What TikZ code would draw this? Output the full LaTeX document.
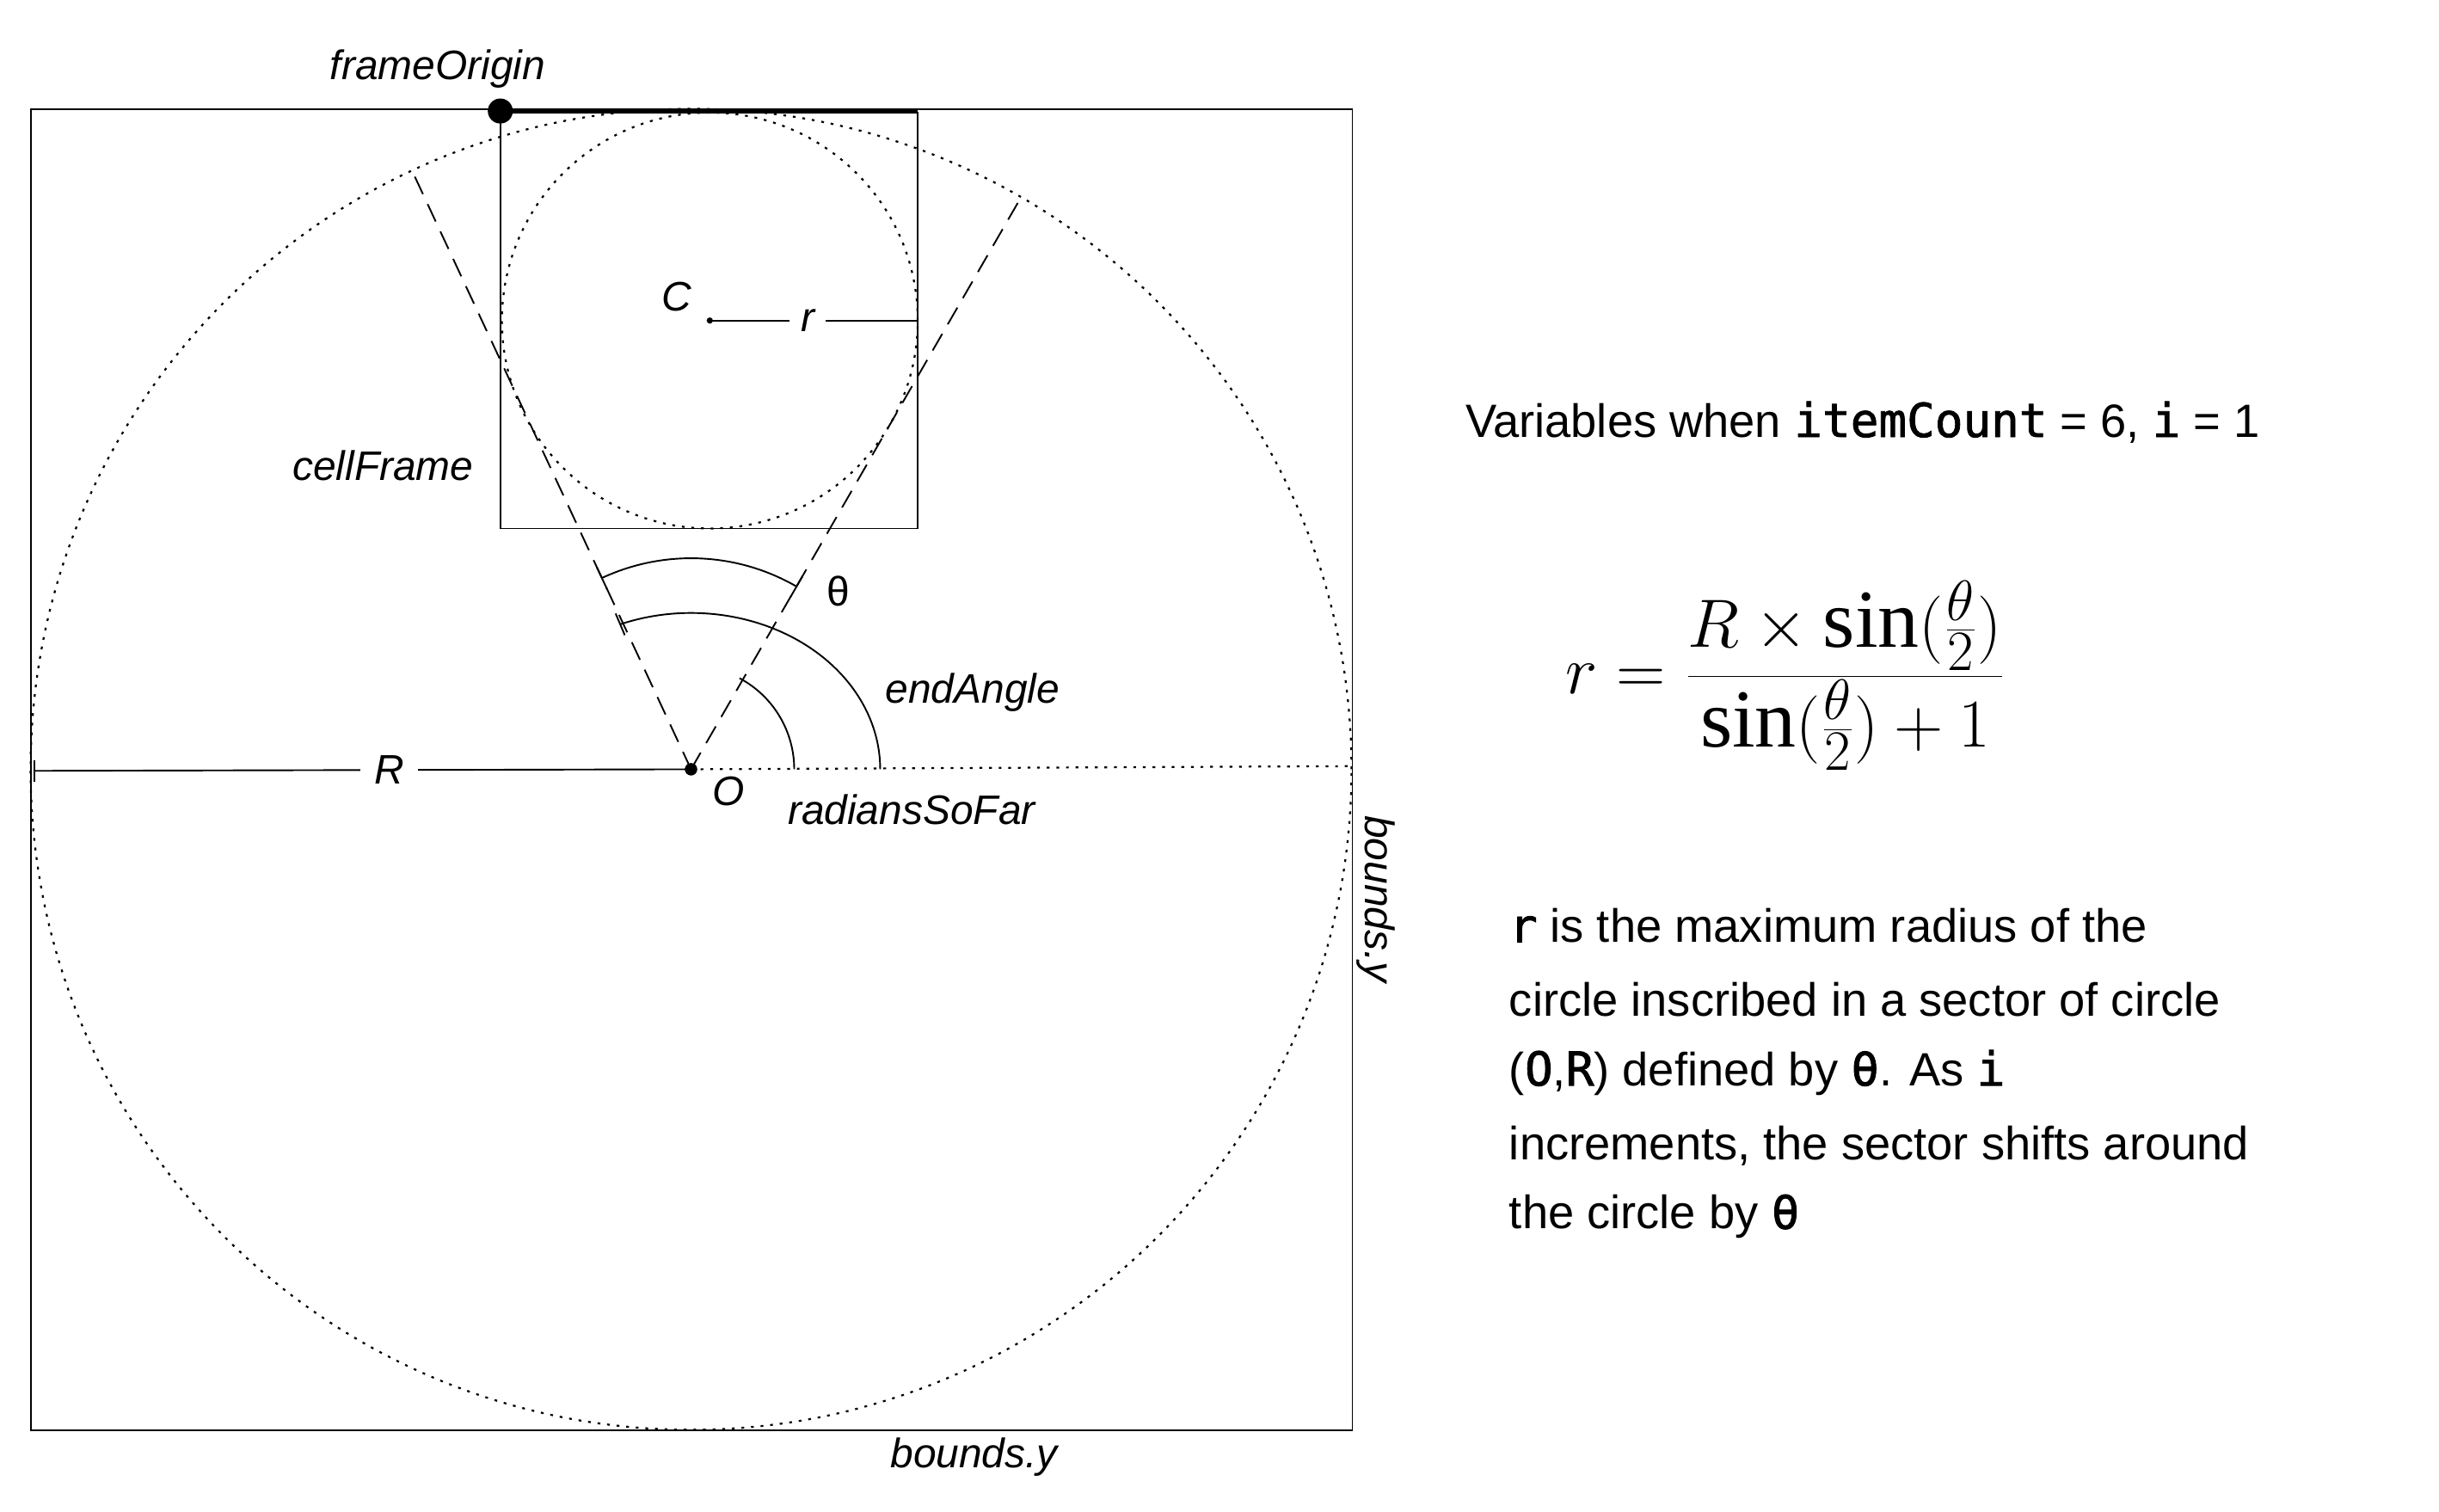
\documentclass[tikz,border=0pt]{standalone}
\usepackage{fontspec}
\setmainfont{Liberation Sans}
\newfontfamily\monof{DejaVu Sans Mono}[FakeBold=1.5]
\newfontfamily\serif{Liberation Serif}
\newcommand{\mn}[1]{{\monof #1}}
\newcommand{\ssin}{\mathop{\hbox{\serif sin}}\nolimits}
\begin{document}
\begin{tikzpicture}[x=0.02cm,y=-0.02cm,
 lab/.style={font=\fontsize{15}{18}\selectfont\itshape,inner sep=1pt},
 txt/.style={font=\fontsize{17}{20}\selectfont,anchor=west,inner sep=0pt},
 dashline/.style={dash pattern=on 7pt off 4pt,line width=0.6pt},
 dots/.style={dash pattern=on 1pt off 2.5pt,line width=0.7pt}]
\useasboundingbox (0,0) rectangle (1560,967);
\coordinate (O) at (442,492);
\coordinate (C) at (454,205);
\draw[line width=0.6pt] (20,70) rectangle (865,915);
\draw[dots] (O) circle[radius=8.45cm];
\draw[line width=0.6pt] (320,72) rectangle (587,338);
\draw[dots] (C) circle[radius=2.66cm];
\draw[line width=0.9pt] (320,71) -- (587,71);
\fill (320,71) circle[radius=0.16cm];
\node[lab] (fo) at (280,44) {frameOrigin};
\coordinate (d1) at (263,108);
\coordinate (d2) at (652,128);
\draw[dashline] (O) -- (d1);
\draw[dashline] (O) -- (d2);
\draw[line width=0.6pt] ([shift={(60:2.7cm)}]O) arc[start angle=60,end angle=115,radius=2.7cm];
\draw[line width=0.6pt] ([shift={(60:2.55cm)}]O) -- ([shift={(60:2.85cm)}]O);
\draw[line width=0.6pt] ([shift={(115:2.55cm)}]O) -- ([shift={(115:2.85cm)}]O);
\draw[line width=0.6pt] ([shift={(0:2.42cm)}]O) arc[start angle=0,end angle=112,x radius=2.42cm,y radius=2.0cm] coordinate (ee);
\draw[line width=0.6pt] ([shift={(113:-0.15cm)}]ee) -- ([shift={(113:0.15cm)}]ee);
\draw[line width=0.6pt] ([shift={(0:1.32cm)}]O) arc[start angle=0,end angle=62,radius=1.32cm];
\draw[dots] (O) -- (865,490);
\fill (O) circle[radius=0.08cm];
\fill (C) circle[radius=0.04cm];
\coordinate (Rl) at (22,493);
\draw[line width=0.6pt] (Rl) -- (O) node[pos=0.54,fill=white,lab,inner xsep=5pt] {R};
\draw[line width=0.6pt] (22,486) -- (22,500);
\draw[line width=0.6pt] (C) -- (587,205) node[pos=0.47,fill=white,lab,inner xsep=4pt] {r};
\node[lab] (cl) at (433,190) {C};
\node[lab] (cf) at (245,298) {cellFrame};
\node[font=\fontsize{15}{18}\selectfont] (th) at (536,378) {θ};
\node[lab] (ea) at (622,443) {endAngle};
\node[lab] (ol) at (466,506) {O};
\node[lab] (rs) at (583,518) {radiansSoFar};
\node[lab,rotate=-90] (by1) at (880,575) {bounds.y};
\node[lab] (by2) at (623,932) {bounds.y};
\node[txt] (v) at (937,270) {Variables when \mn{itemCount} = 6, \mn{i} = 1};
\node (f) at (1142,432) {\fontsize{30}{36}\selectfont$\displaystyle r = \frac{R\times\ssin(\frac{\theta}{2})}{\ssin(\frac{\theta}{2})+1}$};
\node[txt] (p1) at (965,592) {\mn{r} is the maximum radius of the};
\node[txt] (p2) at (965,639) {circle inscribed in a sector of circle};
\node[txt] (p3) at (965,686) {(\mn{O},\mn{R}) defined by \mn{θ}. As \mn{i}};
\node[txt] (p4) at (965,733) {increments, the sector shifts around};
\node[txt] (p5) at (965,778) {the circle by \mn{θ}};
\end{tikzpicture}
\end{document}
